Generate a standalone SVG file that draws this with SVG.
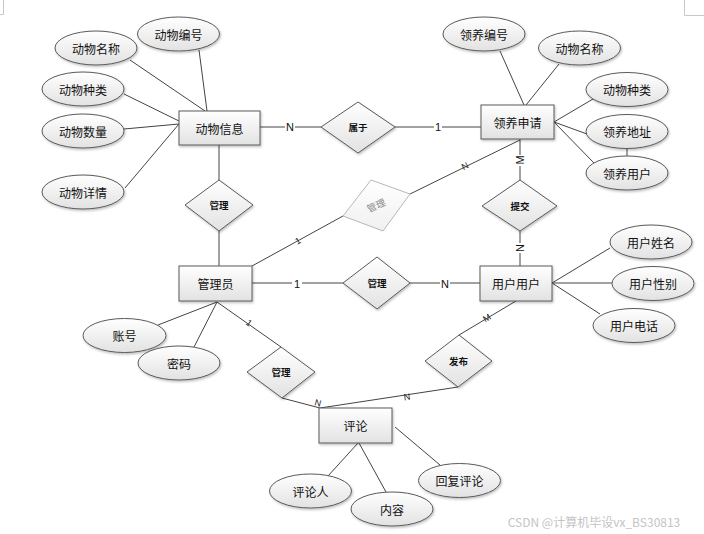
<svg xmlns="http://www.w3.org/2000/svg" width="704" height="534" viewBox="0 0 704 534">
<defs>
<linearGradient id="g" x1="0" y1="0" x2="0" y2="1">
<stop offset="0" stop-color="#ffffff"/>
<stop offset="1" stop-color="#e2e2e2"/>
</linearGradient>
<linearGradient id="gg" x1="0" y1="0" x2="0" y2="1">
<stop offset="0" stop-color="#ffffff"/>
<stop offset="1" stop-color="#f0f0f0"/>
</linearGradient>
<filter id="sh" x="-10%" y="-10%" width="130%" height="140%">
<feDropShadow dx="1" dy="1.5" stdDeviation="0.8" flood-color="#000" flood-opacity="0.25"/>
</filter>
</defs>
<style>
.n{fill:url(#g);stroke:#5a5a5a;stroke-width:1;filter:url(#sh)}
.gh{fill:url(#gg);stroke:#b8b8b8;stroke-width:1}
.t{font-family:"Noto Sans CJK SC","Liberation Sans",sans-serif;font-size:12px;fill:#111;text-anchor:middle;dominant-baseline:central}
.d{font-family:"Noto Sans CJK SC","Liberation Sans",sans-serif;font-size:9.5px;font-weight:bold;fill:#111;text-anchor:middle;dominant-baseline:central}
.l{font-family:"Liberation Sans",sans-serif;font-size:11px;fill:#111;text-anchor:middle;dominant-baseline:central}
.s{font-family:"Liberation Sans",sans-serif;font-size:9px;fill:#222;text-anchor:middle;dominant-baseline:central}
.c line,.c polyline{stroke:#444;stroke-width:1;fill:none}
.bg{fill:#fff}
</style>
<rect width="704" height="534" fill="#fff"/>
<g id="page-marks" stroke="#c8c8c8" stroke-width="1" fill="none">
<polyline points="3.5,0 3.5,14.5 0,14.5"/>
<polyline points="684.5,0 684.5,15.5 704,15.5"/>
</g>
<g id="connectors" class="c">
<line x1="199" y1="50" x2="207" y2="111"/>
<line x1="130" y1="60" x2="205" y2="111"/>
<line x1="124" y1="94" x2="179" y2="121"/>
<line x1="124" y1="129" x2="179" y2="124"/>
<line x1="125" y1="188" x2="179" y2="124"/>
<line x1="260" y1="127" x2="321" y2="127"/>
<line x1="395" y1="127" x2="481" y2="127"/>
<line x1="500" y1="51" x2="524" y2="105"/>
<line x1="559" y1="64" x2="526" y2="105"/>
<line x1="593" y1="99" x2="554" y2="122"/>
<line x1="554" y1="122" x2="587" y2="134"/>
<line x1="554" y1="122" x2="594" y2="163"/>
<line x1="627" y1="148" x2="627" y2="156"/>
<line x1="219" y1="145" x2="219" y2="180"/>
<line x1="219" y1="231" x2="219" y2="266"/>
<line x1="520" y1="139" x2="520" y2="180"/>
<line x1="520" y1="231" x2="520" y2="266"/>
<line x1="520" y1="140" x2="410" y2="194"/>
<line x1="343" y1="216" x2="252" y2="266"/>
<line x1="252" y1="283" x2="343" y2="283"/>
<line x1="410" y1="283" x2="480" y2="283"/>
<line x1="552" y1="283" x2="610" y2="248"/>
<line x1="552" y1="283" x2="612" y2="283"/>
<line x1="552" y1="283" x2="600" y2="314"/>
<line x1="217" y1="302" x2="158" y2="325"/>
<line x1="217" y1="302" x2="194" y2="347"/>
<line x1="217" y1="302" x2="281" y2="347"/>
<line x1="282" y1="398" x2="320" y2="408"/>
<line x1="516" y1="301" x2="459" y2="335"/>
<line x1="458" y1="387" x2="320" y2="408"/>
<line x1="358" y1="443" x2="328" y2="476"/>
<line x1="359" y1="443" x2="386" y2="492"/>
<line x1="395" y1="427" x2="440" y2="465"/>
</g>
<g id="conn-labels">
<rect class="bg" x="285" y="120" width="10" height="14"/>
<text class="l" x="290" y="127">N</text>
<rect class="bg" x="434" y="120" width="8" height="14"/>
<text class="l" x="438" y="127">1</text>
<rect class="bg" x="292" y="276" width="10" height="14"/>
<text class="l" x="297" y="284">1</text>
<rect class="bg" x="440" y="276" width="10" height="14"/>
<text class="l" x="445" y="284">N</text>
<rect class="bg" x="513" y="155" width="14" height="11"/>
<text class="l" transform="translate(520,160) rotate(-90)">M</text>
<rect class="bg" x="513" y="243" width="14" height="10"/>
<text class="l" transform="translate(520,248) rotate(-90)">N</text>
<text class="s" transform="translate(465,166) rotate(-27)">N</text>
<text class="s" transform="translate(298,241) rotate(-29)">1</text>
<text class="s" transform="translate(249,323) rotate(35)">1</text>
<text class="s" transform="translate(318,403) rotate(15)">N</text>
<text class="s" transform="translate(487,318) rotate(-31)">M</text>
<text class="s" transform="translate(407,397) rotate(-9)">N</text>
</g>
<g id="e-dwbh"><ellipse class="n" cx="178.5" cy="34" rx="41" ry="17"/><text class="t" x="178.5" y="34">动物编号</text></g>
<g id="e-dwmc"><ellipse class="n" cx="96" cy="48" rx="41" ry="17"/><text class="t" x="96" y="48">动物名称</text></g>
<g id="e-dwzl"><ellipse class="n" cx="83" cy="89" rx="41" ry="17"/><text class="t" x="83" y="89">动物种类</text></g>
<g id="e-dwsl"><ellipse class="n" cx="83" cy="131" rx="41" ry="17"/><text class="t" x="83" y="131">动物数量</text></g>
<g id="e-dwxq"><ellipse class="n" cx="83" cy="192" rx="41" ry="17"/><text class="t" x="83" y="192">动物详情</text></g>
<g id="dwxx"><rect class="n" x="179" y="111" width="81" height="34"/><text class="t" x="219.5" y="128">动物信息</text></g>
<g id="shuyu"><polygon class="n" points="321,127 358,102 395,127 358,153"/><text class="d" x="358" y="127">属于</text></g>
<g id="lysq"><rect class="n" x="481" y="105" width="73" height="34"/><text class="t" x="517.5" y="122">领养申请</text></g>
<g id="e-lybh"><ellipse class="n" cx="484" cy="34" rx="41" ry="17"/><text class="t" x="484" y="34">领养编号</text></g>
<g id="e-dwmc2"><ellipse class="n" cx="579.5" cy="48" rx="41" ry="17"/><text class="t" x="579.5" y="48">动物名称</text></g>
<g id="e-dwzl2"><ellipse class="n" cx="627" cy="89.5" rx="41" ry="17"/><text class="t" x="627" y="89.5">动物种类</text></g>
<g id="e-lydz"><ellipse class="n" cx="627" cy="131.5" rx="41" ry="17"/><text class="t" x="627" y="131.5">领养地址</text></g>
<g id="e-lyyh"><ellipse class="n" cx="627" cy="173" rx="41" ry="17"/><text class="t" x="627" y="173">领养用户</text></g>
<g id="guanli1"><polygon class="n" points="219,180 253,205 219,231 185,205"/><text class="d" x="219" y="205">管理</text></g>
<g id="guanli-ghost"><polygon class="gh" points="371,180 410,194 383,231 343,216"/><text class="d" style="fill:#8a8a8a;font-weight:normal" transform="translate(376,205) rotate(-25)">管理</text></g>
<g id="tijiao"><polygon class="n" points="520,180 557,206 520,231 482,206"/><text class="d" x="520" y="206">提交</text></g>
<g id="gly"><rect class="n" x="179" y="266" width="73" height="35"/><text class="t" x="215.5" y="283.5">管理员</text></g>
<g id="guanli2"><polygon class="n" points="377,257 410,283 377,309 343,283"/><text class="d" x="377" y="283">管理</text></g>
<g id="yhyh"><rect class="n" x="480" y="266" width="72" height="35"/><text class="t" x="516" y="283.5">用户用户</text></g>
<g id="e-yhxm"><ellipse class="n" cx="651" cy="242" rx="41" ry="17"/><text class="t" x="651" y="242">用户姓名</text></g>
<g id="e-yhxb"><ellipse class="n" cx="653" cy="283.5" rx="41" ry="17"/><text class="t" x="653" y="283.5">用户性别</text></g>
<g id="e-yhdh"><ellipse class="n" cx="634" cy="325.5" rx="41" ry="17"/><text class="t" x="634" y="325.5">用户电话</text></g>
<g id="e-zh"><ellipse class="n" cx="124.5" cy="335.5" rx="41.5" ry="17"/><text class="t" x="124.5" y="335.5">账号</text></g>
<g id="e-mm"><ellipse class="n" cx="179" cy="363" rx="41" ry="17"/><text class="t" x="179" y="363">密码</text></g>
<g id="guanli3"><polygon class="n" points="281,347 315,372 282,398 247,372"/><text class="d" x="281" y="372">管理</text></g>
<g id="fabu"><polygon class="n" points="459,335 492,361 458,387 425,361"/><text class="d" x="458.5" y="361">发布</text></g>
<g id="pinglun"><rect class="n" x="319" y="408" width="73" height="35"/><text class="t" x="355.5" y="425.5">评论</text></g>
<g id="e-plr"><ellipse class="n" cx="310.5" cy="491" rx="41" ry="17"/><text class="t" x="310.5" y="491">评论人</text></g>
<g id="e-nr"><ellipse class="n" cx="392" cy="509" rx="41" ry="17"/><text class="t" x="392" y="509">内容</text></g>
<g id="e-hfpl"><ellipse class="n" cx="459.5" cy="480.5" rx="41" ry="17"/><text class="t" x="459.5" y="480.5">回复评论</text></g>
<text x="594" y="521" style="font-family:'Noto Sans CJK SC','Liberation Sans',sans-serif;font-size:12px;fill:#c4c4c4;text-anchor:middle;dominant-baseline:central">CSDN @计算机毕设vx_BS30813</text>
</svg>
